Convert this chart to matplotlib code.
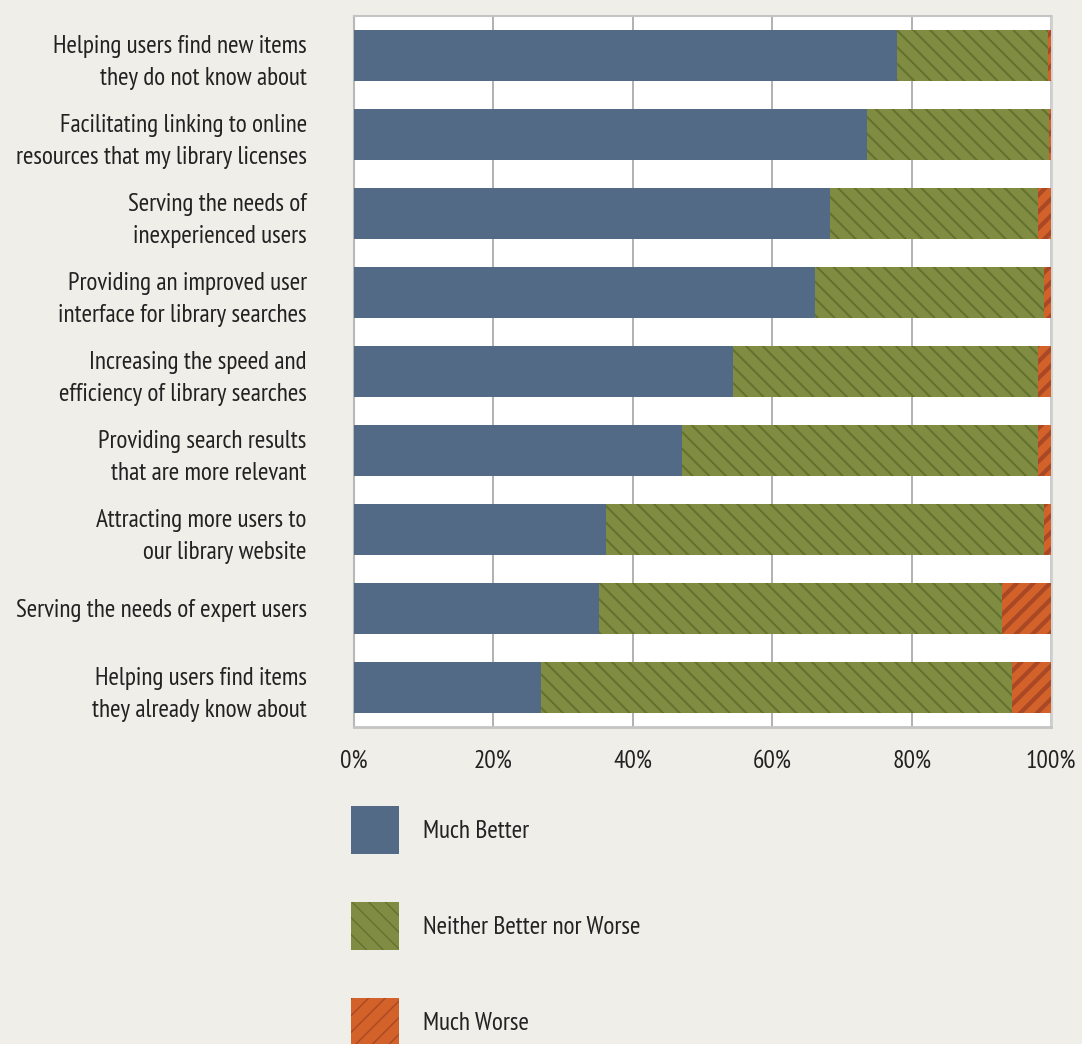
import matplotlib
matplotlib.use("Agg")
import matplotlib.pyplot as plt
from matplotlib import font_manager
from matplotlib.font_manager import FontProperties
from matplotlib.textpath import TextPath

categories = [
    "Helping users find new items\nthey do not know about",
    "Facilitating linking to online\nresources that my library licenses",
    "Serving the needs of\ninexperienced users",
    "Providing an improved user\ninterface for library searches",
    "Increasing the speed and\nefficiency of library searches",
    "Providing search results\nthat are more relevant",
    "Attracting more users to\nour library website",
    "Serving the needs of expert users",
    "Helping users find items\nthey already know about",
]
much_better = [77.9, 73.6, 68.3, 66.1, 54.4, 47.1, 36.2, 35.2, 26.8]
neither = [21.6, 26.1, 29.8, 32.9, 43.7, 51.0, 62.8, 57.7, 67.6]
much_worse = [0.5, 0.3, 1.9, 1.0, 1.9, 1.9, 1.0, 7.1, 5.6]
series_names = ["Much Better", "Neither Better nor Worse", "Much Worse"]
xticks = [0, 20, 40, 60, 80, 100]
xtick_labels = ["0%", "20%", "40%", "60%", "80%", "100%"]

# pick a condensed sans whose width/cap-height ratio is closest to the reference's (~14.1)
names = {f.name for f in font_manager.fontManager.ttflist}
cands = ["Pathway Gothic One", "Archivo Narrow", "PT Sans Narrow", "Roboto Condensed",
         "Sofia Sans Condensed", "Fira Sans Condensed", "IBM Plex Sans Condensed",
         "Open Sans Condensed", "Barlow Condensed", "Encode Sans Condensed", "Asap Condensed"]
SAMPLE = "Helping users find new items"
best, best_err = "DejaVu Sans", 1e9
for c in cands:
    if c not in names:
        continue
    try:
        fp = FontProperties(family=c, weight="normal")
        if font_manager.findfont(fp, fallback_to_default=False) is None:
            continue
        wd = TextPath((0, 0), SAMPLE, size=100, prop=fp).get_extents().width
        ch = TextPath((0, 0), "H", size=100, prop=fp).get_extents().height
        err = abs(wd / ch - 14.1)
        if err < best_err:
            best, best_err = c, err
    except Exception:
        pass
fam = best
plt.rcParams["font.family"] = [fam, "DejaVu Sans"]

BG = "#efeee8"
BLUE = "#536a87"
GREEN = "#7f8c42"
GREEN_H = "#65722f"
ORANGE = "#d3622a"
ORANGE_H = "#a94825"
TXT = "#222222"

fig = plt.figure(figsize=(10.82, 10.44), dpi=100, facecolor=BG)

r = fig.canvas.get_renderer()
tmp = fig.text(0, 0, SAMPLE, fontsize=20)
w = tmp.get_window_extent(r).width
tmp.remove()
FS = max(13.0, min(24.0, 20 * 254 / w))
fs_px = FS * 100 / 72
_, lh, ld = r.get_text_width_height_descent("lp", FontProperties(family=fam, size=FS), ismath=False)
LS = 27.0 / max(lh - ld, 1.0)

ax = fig.add_axes([354/1082, 1-727/1044, (1051-354)/1082, (727-16)/1044])
ax.set_facecolor("white")

y = list(range(len(categories)))
h = 0.65
b1 = ax.barh(y, much_better, height=h, color=BLUE, linewidth=0, label=series_names[0], zorder=3)
left2 = much_better
with plt.rc_context({"hatch.linewidth": 1.5}):
    b2 = ax.barh(y, neither, left=left2, height=h, facecolor=GREEN, edgecolor=GREEN_H,
                 hatch="\\\\", linewidth=0, label=series_names[1], zorder=3)
left3 = [a + b for a, b in zip(much_better, neither)]
with plt.rc_context({"hatch.linewidth": 3.0}):
    b3 = ax.barh(y, much_worse, left=left3, height=h, facecolor=ORANGE, edgecolor=ORANGE_H,
                 hatch="//", linewidth=0, label=series_names[2], zorder=3)
for p in b2:
    if hasattr(p, "set_hatch_linewidth"):
        p.set_hatch_linewidth(1.5)
for p in b3:
    if hasattr(p, "set_hatch_linewidth"):
        p.set_hatch_linewidth(3.0)

ax.set_xlim(0, 100)
ax.set_ylim(len(categories) - 0.5, -0.5)
ax.set_xticks(xticks)
ax.set_xticklabels(xtick_labels)
ax.set_yticks(y)
ax.set_yticklabels(categories, linespacing=LS)
ax.tick_params(axis="both", length=0, labelsize=FS, colors=TXT)
ax.tick_params(axis="x", pad=16)
ax.tick_params(axis="y", pad=34)
ax.grid(axis="x", color="#ababab", linewidth=1.3, zorder=1)
ax.set_axisbelow(True)
ax.spines["left"].set_color("#b8b8b8")
ax.spines["left"].set_linewidth(1.5)
ax.spines["right"].set_color("#cfcfcf")
ax.spines["right"].set_linewidth(2)
ax.spines["top"].set_color("#c4c4c4")
ax.spines["top"].set_linewidth(1.5)
ax.spines["bottom"].set_color("#c4c4c4")
ax.spines["bottom"].set_linewidth(2)

sq = 48 / fs_px
hh = (sq - 0.245) / 0.65
leg = ax.legend(handles=[b1, b2, b3], loc="upper left",
                bbox_to_anchor=(351/1082, 1-806/1044), bbox_transform=fig.transFigure,
                frameon=False, fontsize=FS, handlelength=sq, handleheight=hh,
                labelspacing=sq, handletextpad=24 / fs_px, borderaxespad=0, borderpad=0)
for t in leg.get_texts():
    t.set_color(TXT)

fig.savefig("out.png", dpi=100, facecolor=BG)
